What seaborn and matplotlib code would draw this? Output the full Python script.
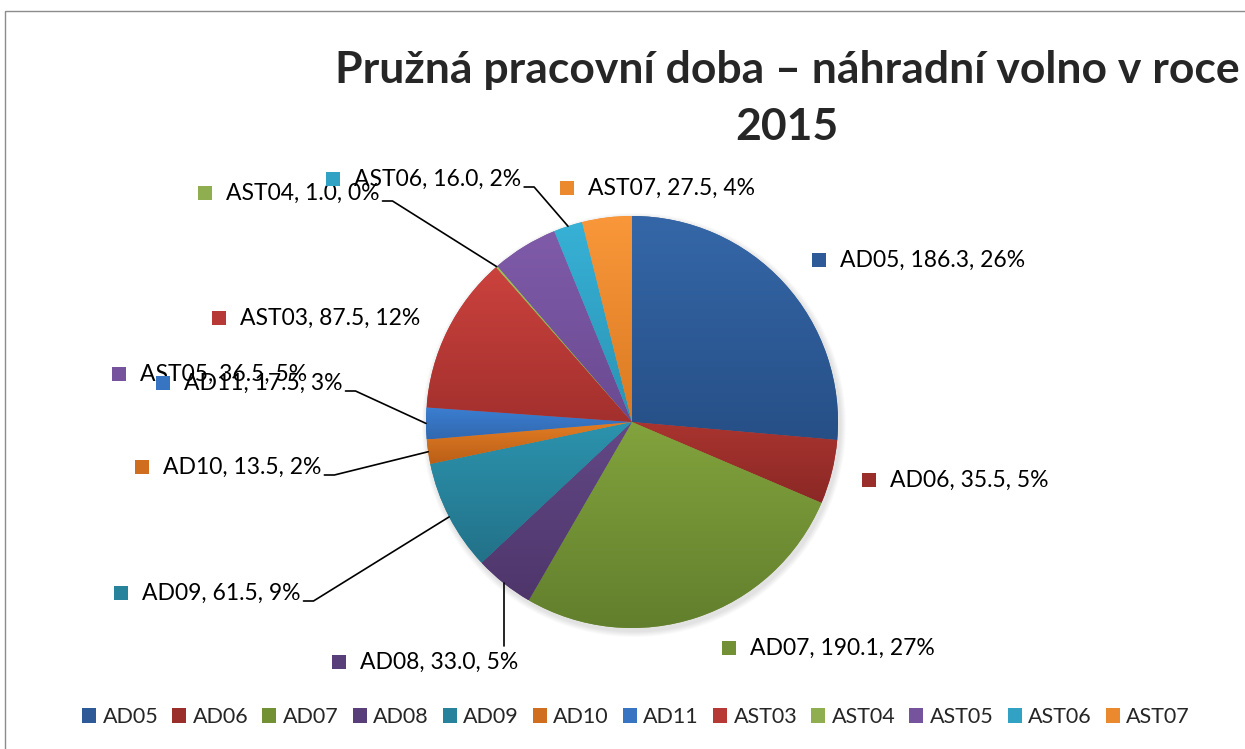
import numpy as np
import seaborn as sns
import matplotlib.pyplot as plt
from matplotlib.patches import Rectangle, Circle
from matplotlib.colors import to_rgb

# data
kategorie = ["AD05", "AD06", "AD07", "AD08", "AD09", "AD10", "AD11",
             "AST03", "AST04", "AST05", "AST06", "AST07"]
hodiny = [186.3, 35.5, 190.1, 33.0, 61.5, 13.5, 17.5, 87.5, 1.0, 36.5, 16.0, 27.5]
procenta = ["26%", "5%", "27%", "5%", "9%", "2%", "3%", "12%", "0%", "5%", "2%", "4%"]

# excel-like gradient colours (top / bottom)
barvy_horni = ["#3567A8", "#A9342F", "#82A33D", "#634886", "#2C93AE", "#E27D24",
               "#3C7FD2", "#CB423E", "#9FC15B", "#7F5BA9", "#37B1D6", "#F9973A"]
barvy_dolni = ["#264F86", "#8A2825", "#627F2D", "#4E366B", "#227188", "#BA5E17",
               "#3168B0", "#A3302D", "#7E9A45", "#6A4A91", "#2B93B3", "#DA7A22"]

# label placement (left of text, vertical centre) in pixels and leader type
popisky_xy = [(840, 260), (890, 480), (750, 648), (360, 662), (142, 593), (163, 467),
              (184, 383), (240, 318), (226, 193), (140, 374), (354, 179), (588, 188)]
vodici = [None, None, None, "top", "right", "right", "right", None, "right", None, "right", None]

W, H = 1245, 749
cx, cy, r = 632, 422, 206

sns.set_theme(style="white")
plt.rcParams["font.family"] = ["Lato", "DejaVu Sans"]

fig = plt.figure(figsize=(W / 100, H / 100), dpi=100)
ax = fig.add_axes([0, 0, 1, 1])

barvy_stred = [tuple((np.array(to_rgb(a)) + np.array(to_rgb(b))) / 2)
               for a, b in zip(barvy_horni, barvy_dolni)]

# soft shadow
for i in range(6):
    ax.add_patch(Circle((cx + 2, cy + 3), r + 1 + i, color="k", alpha=0.02, lw=0, zorder=0.5))

wedges, _ = ax.pie(hodiny, colors=barvy_stred, startangle=-90, counterclock=True,
                   center=(cx, cy), radius=r, wedgeprops=dict(linewidth=0))

for w, c1, c2 in zip(wedges, barvy_horni, barvy_dolni):
    ext = w.get_path().get_extents()
    grad = np.linspace(to_rgb(c1), to_rgb(c2), 256)[:, None, :]
    im = ax.imshow(grad, extent=(ext.x0, ext.x1, ext.y1, ext.y0), origin="upper",
                   aspect="auto", interpolation="bilinear", zorder=w.get_zorder() + 0.1)
    im.set_clip_path(w)

ax.set_aspect("auto")
ax.set_xlim(0, W)
ax.set_ylim(H, 0)
ax.axis("off")

# data labels
fs = 16.5
texty = []
for i, (kat, hod, pct) in enumerate(zip(kategorie, hodiny, procenta)):
    tx, ty = popisky_xy[i]
    t = ax.text(tx, ty, f"{kat}, {hod:.1f}, {pct}", fontsize=fs, ha="left", va="center",
                color="black", zorder=4)
    texty.append(t)
    ax.add_patch(Rectangle((tx - 28, ty - 7), 14, 14, color=barvy_stred[i], lw=0, zorder=5))

# leader lines
fig.canvas.draw()
inv = ax.transData.inverted()
for w, t, typ, (tx, ty) in zip(wedges, texty, vodici, popisky_xy):
    if typ is None:
        continue
    th = np.deg2rad((w.theta1 + w.theta2) / 2)
    px, py = cx + r * np.cos(th), cy + r * np.sin(th)
    bb = t.get_window_extent().transformed(inv)
    if typ == "right":
        xs = [bb.xmax + 3, bb.xmax + 13, px]
        ys = [ty + 8, ty + 8, py]
    else:
        xs = [px, px]
        ys = [bb.ymin - 6, py]
    ax.plot(xs, ys, color="black", lw=1.2, zorder=3)

# title
ax.text(787, 70, "Pružná pracovní doba – náhradní volno v roce", fontsize=32,
        fontweight="bold", ha="center", va="center")
ax.text(787, 127, "2015", fontsize=32, fontweight="bold", ha="center", va="center")

# legend
ax.legend(wedges, kategorie, loc="center", bbox_to_anchor=(636, 717),
          bbox_transform=ax.transData, ncol=12, frameon=False, fontsize=15.5,
          handlelength=0.65, handleheight=0.7, handletextpad=0.3, columnspacing=0.65)

# chart area border
ax.add_patch(Rectangle((4.5, 10.5), W, H, fill=False, edgecolor="#8c8c8c", lw=1, zorder=0))

fig.savefig("out.png", dpi=100)
